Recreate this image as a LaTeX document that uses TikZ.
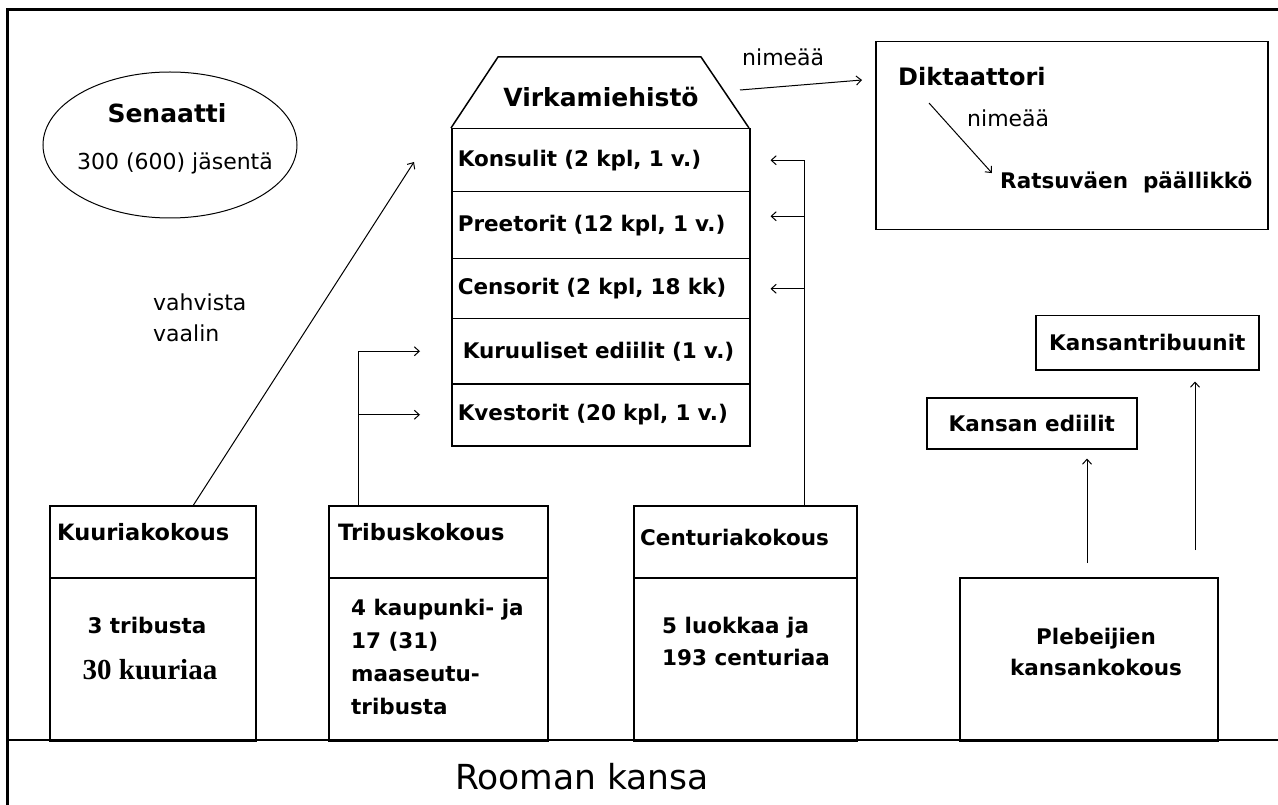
\documentclass[tikz,border=0pt]{standalone}
\usepackage{fontspec}
\setmainfont{DejaVu Sans}
\newfontfamily\serifbold{Liberation Serif}
\usetikzlibrary{shapes.geometric,arrows.meta}
\begin{document}
\begin{tikzpicture}[x=1pt, y=-1pt, >={Straight Barb[length=5pt,width=9pt]},
    box/.style={draw, line width=1.5pt, inner sep=0pt},
    conn/.style={->, line width=1pt},
    lbl/.style={inner sep=0pt, font=\fontsize{22}{31}\selectfont},
    bx/.style={inner sep=0pt, font=\bfseries\fontsize{21.5}{33}\selectfont},
    big/.style={inner sep=0pt, font=\bfseries\fontsize{25}{30}\selectfont}]
    \useasboundingbox (0,0) rectangle (1278,805);
    \draw [line width=3pt] (7,805) -- (7,10) -- (1278,10);
    \draw [line width=2pt] (7,740) -- (1278,740);
    \node [draw, ellipse, line width=1pt, minimum width=254pt, minimum height=146pt] (sen) at (170,145) {};
    \node [big] (sentxt) at (167,113) {Senaatti};
    \node [lbl] (senmem) at (175,163) {300 (600) jäsentä};
    \draw [line width=1.5pt] (451,128) -- (498,57) -- (701,57) -- (749,128);
    \node [big] (virk) at (601,97) {Virkamiehistö};
    \foreach \y/\h/\t/\n in {128/63pt/{Konsulit (2 kpl, 1 v.)}/kons,
                             191/67pt/{Preetorit (12 kpl, 1 v.)}/pret,
                             258/60pt/{Censorit (2 kpl, 18 kk)}/cens,
                             318/65pt/{\hspace{5pt}Kuruuliset ediilit (1 v.)}/kur,
                             383/62pt/{Kvestorit (20 kpl, 1 v.)}/kve}
        \node [box, bx, anchor=north west, minimum width=298pt, minimum height=\h,
               inner xsep=6pt, text width=286pt, align=left] (\n) at (451,\y) {\t};
    \node [box, anchor=north west, minimum width=392pt, minimum height=188pt] (dikt) at (875,41) {};
    \node [bx, font=\bfseries\fontsize{24}{30}\selectfont, anchor=west] (dtxt) at (898,77) {Diktaattori};
    \node [lbl, anchor=west] (nimB) at (967,118) {nimeää};
    \node [bx, anchor=west] (rats) at (1000,182) {Ratsuväen\ \ päällikkö};
    \node [lbl, anchor=west] (nimA) at (742,57) {nimeää};
    \coordinate (virkout) at (740,90);
    \coordinate (diktin) at (862,80);
    \draw [conn] (virkout) -- (diktin);
    \coordinate (dstart) at (929,103);
    \draw [conn, shorten >=12pt] (dstart) -- (rats.west);
    \node [box, anchor=north west, minimum width=206pt, minimum height=72pt] (kuurh) at (49,505) {};
    \node [box, anchor=north west, minimum width=206pt, minimum height=163pt] (kuurb) at (49,577) {};
    \node [bx, font=\bfseries\fontsize{22.5}{33}\selectfont, anchor=west] (kuurt) at (57,532) {Kuuriakokous};
    \node [bx] (kuur1) at (147,625) {3 tribusta};
    \node [inner sep=0pt, font=\serifbold\bfseries\fontsize{29}{32}\selectfont] (kuur2) at (150,670) {30 kuuriaa};
    \node [box, anchor=north west, minimum width=219pt, minimum height=72pt] (tribh) at (328,505) {};
    \node [box, anchor=north west, minimum width=219pt, minimum height=163pt] (tribb) at (328,577) {};
    \node [bx, font=\bfseries\fontsize{22.5}{33}\selectfont, anchor=west] (tribt) at (338,532) {Tribuskokous};
    \node [bx, anchor=west, align=left] (tribtxt) at (351,657) {4 kaupunki- ja\\17 (31)\\maaseutu-\\tribusta};
    \node [box, anchor=north west, minimum width=223pt, minimum height=72pt] (centh) at (633,505) {};
    \node [box, anchor=north west, minimum width=223pt, minimum height=163pt] (centb) at (633,577) {};
    \node [bx, anchor=west] (centt) at (640,537) {Centuriakokous};
    \node [bx, anchor=west, align=left, font=\bfseries\fontsize{21.5}{32}\selectfont] (centtxt) at (662,641) {5 luokkaa ja\\193 centuriaa};
    \node [box, anchor=north west, minimum width=258pt, minimum height=163pt] (pleb) at (959,577) {};
    \node [bx, align=center, font=\bfseries\fontsize{21.5}{31}\selectfont] (plebtxt) at (1096,652) {Plebeijien\\kansankokous};
    \node [box, bx, anchor=north west, minimum width=210pt, minimum height=51pt] (kedi) at (926,397) {Kansan ediilit};
    \node [box, bx, anchor=north west, minimum width=223pt, minimum height=54pt] (ktrib) at (1035,315) {Kansantribuunit};
    \coordinate (kuurtop) at ([xshift=-63pt]kuurh.north east);
    \coordinate (vaalitip) at (414,162);
    \draw [conn] (kuurtop) -- (vaalitip);
    \node [lbl, anchor=west, align=left] (vahv) at (153,318) {vahvista\\vaalin};
    \coordinate (tribtop) at ([xshift=30pt]tribh.north west);
    \draw [conn, shorten >=31pt] (tribtop) |- (kur.west);
    \draw [conn, shorten >=31pt] (tribtop |- kve.west) -- (kve.west);
    \coordinate (centtop) at ([xshift=-53pt]centh.north east);
    \coordinate (pretarr) at ([yshift=9pt]pret.east);
    \draw [conn, shorten >=20pt] (centtop) |- (kons.east);
    \draw [conn, shorten >=20pt] (centtop |- pretarr) -- (pretarr);
    \draw [conn, shorten >=20pt] (centtop |- cens.east) -- (cens.east);
    \coordinate (plebA) at ([xshift=128pt]pleb.north west);
    \coordinate (plebB) at ([xshift=236pt]pleb.north west);
    \draw [conn, shorten <=14pt, shorten >=9pt] (plebA) -- (plebA |- kedi.south);
    \draw [conn, shorten <=27pt, shorten >=11pt] (plebB) -- (plebB |- ktrib.south);
    \node [inner sep=0pt, font=\fontsize{34.5}{40}\selectfont] (kansa) at (582,777) {Rooman kansa};
\end{tikzpicture}
\end{document}
